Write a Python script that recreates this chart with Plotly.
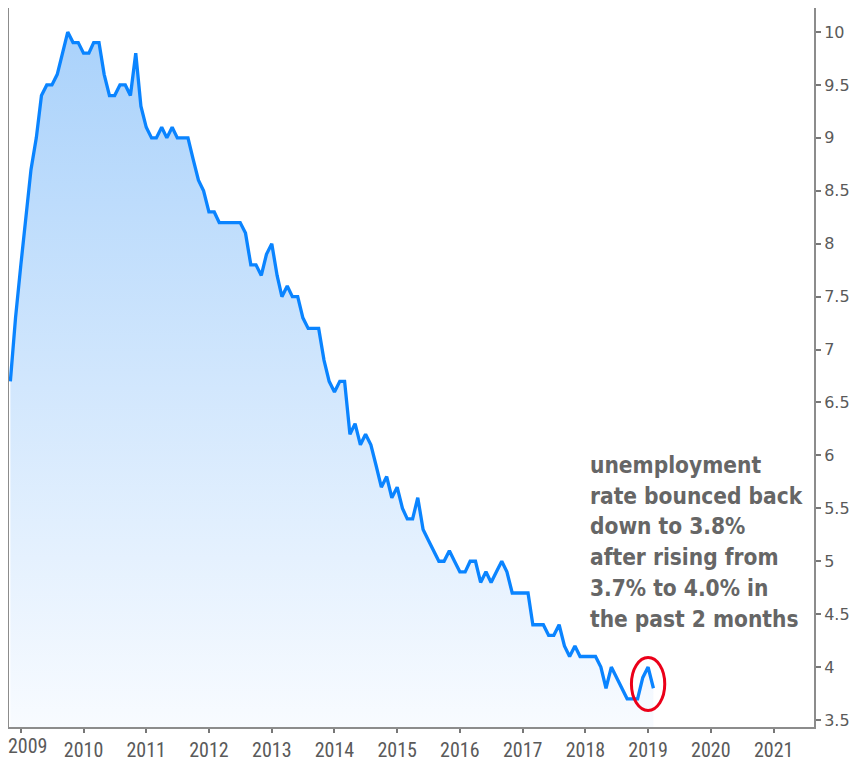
import pandas as pd
import plotly.graph_objects as go

# US unemployment rate, monthly, Nov 2008 - Feb 2019 (%)
start_month = "2008-11-01"
rate = [
    6.7, 7.3,
    7.8, 8.3, 8.7, 9.0, 9.4, 9.5, 9.5, 9.6, 9.8, 10.0, 9.9, 9.9,
    9.8, 9.8, 9.9, 9.9, 9.6, 9.4, 9.4, 9.5, 9.5, 9.4, 9.8, 9.3,
    9.1, 9.0, 9.0, 9.1, 9.0, 9.1, 9.0, 9.0, 9.0, 8.8, 8.6, 8.5,
    8.3, 8.3, 8.2, 8.2, 8.2, 8.2, 8.2, 8.1, 7.8, 7.8, 7.7, 7.9,
    8.0, 7.7, 7.5, 7.6, 7.5, 7.5, 7.3, 7.2, 7.2, 7.2, 6.9, 6.7,
    6.6, 6.7, 6.7, 6.2, 6.3, 6.1, 6.2, 6.1, 5.9, 5.7, 5.8, 5.6,
    5.7, 5.5, 5.4, 5.4, 5.6, 5.3, 5.2, 5.1, 5.0, 5.0, 5.1, 5.0,
    4.9, 4.9, 5.0, 5.0, 4.8, 4.9, 4.8, 4.9, 5.0, 4.9, 4.7, 4.7,
    4.7, 4.7, 4.4, 4.4, 4.4, 4.3, 4.3, 4.4, 4.2, 4.1, 4.2, 4.1,
    4.1, 4.1, 4.1, 4.0, 3.8, 4.0, 3.9, 3.8, 3.7, 3.7, 3.7, 3.9,
    4.0, 3.8,
]
dates = pd.date_range(start_month, periods=len(rate), freq="MS")

x_tick_years = list(range(2009, 2022))
x_tick_labels = [str(y) for y in x_tick_years]
y_tick_vals = [3.5, 4, 4.5, 5, 5.5, 6, 6.5, 7, 7.5, 8, 8.5, 9, 9.5, 10]
y_tick_labels = ["3.5", "4", "4.5", "5", "5.5", "6", "6.5", "7", "7.5", "8", "8.5", "9", "9.5", "10"]

note_lines = [
    "unemployment",
    "rate bounced back",
    "down to 3.8%",
    "after rising from",
    "3.7% to 4.0% in",
    "the past 2 months",
]

XFONT = dict(family="Roboto Condensed, DejaVu Sans Condensed, Liberation Sans", size=20, color="#5a5a5a")

fig = go.Figure()
fig.add_trace(go.Scatter(
    x=dates, y=rate, mode="lines",
    line=dict(color="#0a84ff", width=3.3),
    fill="tozeroy",
    fillgradient=dict(
        type="vertical",
        start=3.43, stop=10.0,
        colorscale=[[0, "rgb(248,251,255)"], [1, "rgb(170,210,251)"]],
    ),
    showlegend=False, hoverinfo="skip",
))

# red ellipse around the latest readings
ctr = dates[-2]
half = pd.Timedelta(days=97)
fig.add_shape(type="circle", xref="x", yref="y",
              x0=ctr - half, x1=ctr + half,
              y0=rate[-1] + 0.04 - 0.25, y1=rate[-1] + 0.04 + 0.25,
              line=dict(color="rgb(235,0,25)", width=3))

# page body adds an 8px offset; plot area spans screen y 8..727, x 9..814
for i, txt in enumerate(note_lines):
    fig.add_annotation(
        xref="paper", yref="paper",
        x=(588 - 9) / 805, y=(727 - (465 + 30.7 * i)) / 719,
        xanchor="left", yanchor="middle",
        text=txt, showarrow=False, align="left",
        font=dict(family="DejaVu Sans Condensed, DejaVu Sans", size=22.5,
                  color="#666666", weight="bold"),
    )

# the first year label sits flush with the left edge of the frame
fig.add_annotation(
    xref="paper", yref="paper", x=-0.004, y=(727 - 746) / 719,
    xanchor="left", yanchor="middle", showarrow=False,
    text=x_tick_labels[0], font=XFONT,
)
shown_labels = [""] + x_tick_labels[1:]

fig.update_layout(
    width=850, height=754,
    margin=dict(l=1, r=44, t=0, b=35),
    paper_bgcolor="white", plot_bgcolor="white",
    showlegend=False,
    xaxis=dict(
        range=["2008-10-24", "2021-08-24"],
        tickvals=[pd.Timestamp(f"{y}-01-01") for y in x_tick_years],
        ticktext=shown_labels,
        ticks="outside", ticklen=4, tickcolor="#777", tickwidth=1.5,
        automargin=False,
        showgrid=False, zeroline=False,
        showline=True, linecolor="#8c8c8c", linewidth=2, mirror=True,
        tickfont=XFONT,
    ),
    yaxis=dict(
        side="right",
        range=[3.434, 10.227],
        tickvals=y_tick_vals, ticktext=y_tick_labels,
        ticks="outside", ticklen=5, tickcolor="#777", tickwidth=1.5,
        automargin=False,
        showgrid=False, zeroline=False,
        showline=True, linecolor="#8c8c8c", linewidth=2, mirror=True,
        tickfont=dict(family="DejaVu Sans", size=16, color="#5a5a5a"),
    ),
)

fig.write_html("out.html")
